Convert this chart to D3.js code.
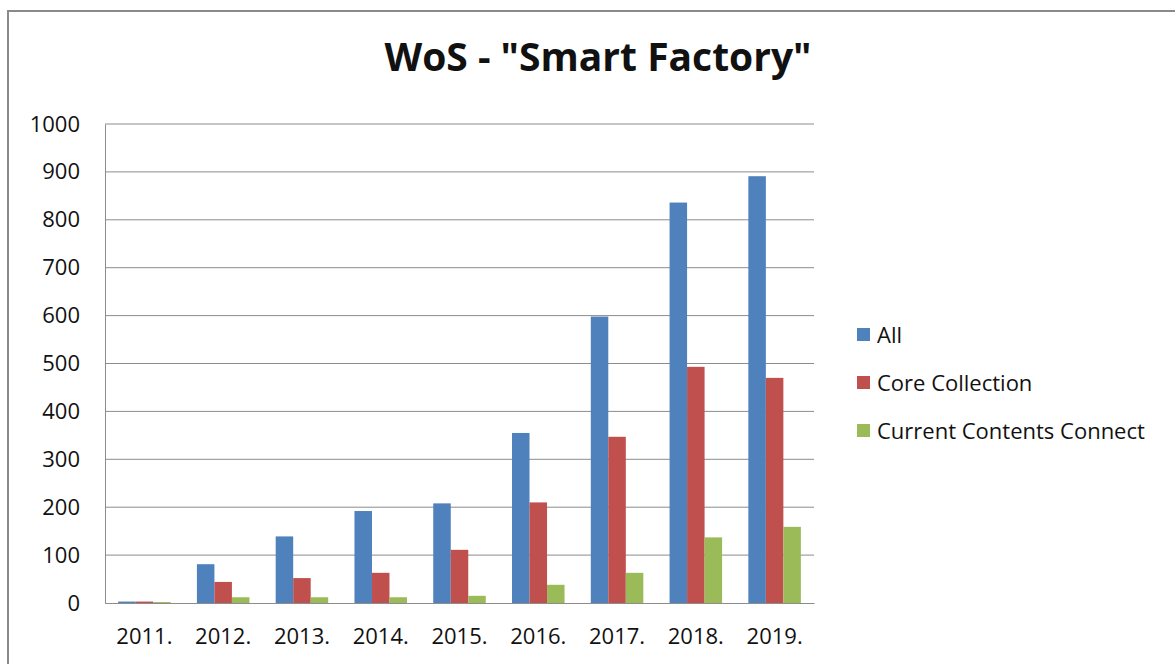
<!DOCTYPE html>
<html>
<head>
<meta charset="utf-8">
<script src="https://cdn.jsdelivr.net/npm/d3@7"></script>
<style>
  body { margin: 0; background: #fff; }
  text { font-family: "Open Sans", "Liberation Sans", Arial, sans-serif; fill: #111; }
</style>
</head>
<body>
<script>
var width = 1175, height = 664;

var years = ["2011.", "2012.", "2013.", "2014.", "2015.", "2016.", "2017.", "2018.", "2019."];
var seriesNames = ["All", "Core Collection", "Current Contents Connect"];
var allVals = [3, 81, 139, 192, 208, 355, 598, 836, 891];
var coreVals = [3, 44, 52, 63, 111, 210, 347, 493, 470];
var cccVals = [2, 12, 12, 12, 15, 38, 63, 137, 159];
var colors = ["#4F81BD", "#C0504D", "#9BBB59"];
var yTicks = [0, 100, 200, 300, 400, 500, 600, 700, 800, 900, 1000];

var seriesVals = [allVals, coreVals, cccVals];

var margin = {left: 105, top: 124, right: 361, bottom: 61};
var plotW = width - margin.left - margin.right;
var plotH = height - margin.top - margin.bottom;
var font = "'Open Sans', 'Liberation Sans', Arial, sans-serif";

var svg = d3.select("body").append("svg")
    .attr("width", width)
    .attr("height", height);

// outer frame
svg.append("rect")
    .attr("x", 8).attr("y", 11)
    .attr("width", width + 20).attr("height", height + 20)
    .attr("fill", "none")
    .attr("stroke", "#8a8a8a")
    .attr("stroke-width", 2);

svg.append("text")
    .attr("x", 598).attr("y", 71)
    .attr("text-anchor", "middle")
    .style("font-size", "39px")
    .style("font-weight", "bold")
    .text('WoS - "Smart Factory"');

var g = svg.append("g")
    .attr("transform", "translate(" + margin.left + "," + margin.top + ")");

var x0 = d3.scaleBand().domain(years).range([0, plotW]).paddingInner(0).paddingOuter(0);
var y = d3.scaleLinear().domain([0, 1000]).range([plotH, 0]);

var barW = x0.bandwidth() / 4.5;
var x1 = d3.scaleBand().domain(d3.range(3)).range([0, barW * 3]);

// gridlines
g.append("g").selectAll("line")
    .data(yTicks.slice(1))
    .join("line")
    .attr("x1", 0).attr("x2", plotW)
    .attr("y1", function(d) { return y(d); })
    .attr("y2", function(d) { return y(d); })
    .attr("stroke", "#8c8c8c")
    .attr("stroke-width", 1);

// y axis
var yAxis = g.append("g").call(d3.axisLeft(y).tickValues(yTicks).tickFormat(d3.format("d")).tickSize(0).tickPadding(25));
yAxis.select(".domain").attr("stroke", "#8c8c8c");
yAxis.selectAll("text").style("font-size", "22px").style("font-family", font).attr("fill", "#111");

// bars
var groups = g.append("g").selectAll("g")
    .data(years)
    .join("g")
    .attr("transform", function(d) { return "translate(" + (x0(d) + (x0.bandwidth() - barW * 3) / 2) + ",0)"; });

groups.selectAll("rect")
    .data(function(d, i) { return seriesVals.map(function(s, k) { return {k: k, v: s[i]}; }); })
    .join("rect")
    .attr("x", function(d) { return x1(d.k); })
    .attr("width", x1.bandwidth())
    .attr("y", function(d) { return y(d.v); })
    .attr("height", function(d) { return plotH - y(d.v); })
    .attr("fill", function(d) { return colors[d.k]; });

// x axis
var xAxis = g.append("g")
    .attr("transform", "translate(0," + plotH + ")")
    .call(d3.axisBottom(x0).tickSize(0).tickPadding(25));
xAxis.select(".domain").attr("stroke", "#8c8c8c");
xAxis.selectAll("text").style("font-size", "22px").style("font-family", font).attr("fill", "#111");

// legend
var legend = svg.append("g").selectAll("g")
    .data(seriesNames)
    .join("g")
    .attr("transform", function(d, i) { return "translate(857," + (335 + i * 48) + ")"; });

legend.append("rect")
    .attr("x", 0).attr("y", -7)
    .attr("width", 13).attr("height", 13)
    .attr("fill", function(d, i) { return colors[i]; });

legend.append("text")
    .attr("x", 20).attr("y", 0)
    .attr("dy", "0.36em")
    .style("font-size", "22px")
    .text(function(d) { return d; });
</script>
</body>
</html>
